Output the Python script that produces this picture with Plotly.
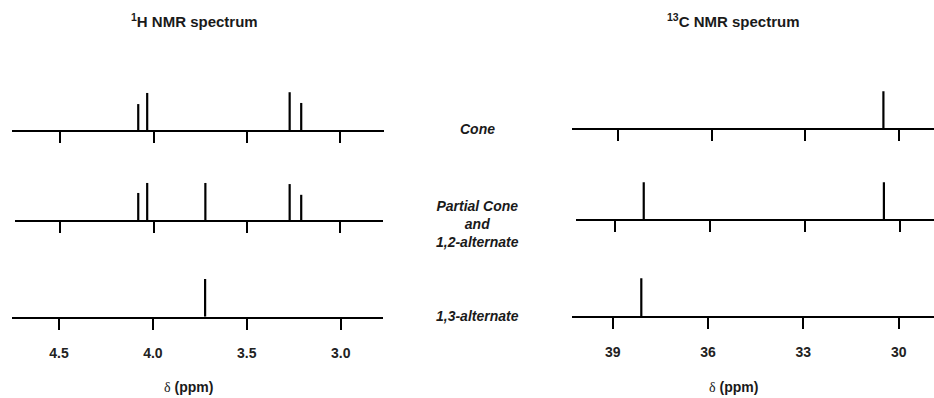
import plotly.graph_objects as go

# ---------------- data ----------------
h_ticks = [4.5, 4.0, 3.5, 3.0]
h_ticklabels = ["4.5", "4.0", "3.5", "3.0"]
c_ticks = [39, 36, 33, 30]
c_ticklabels = ["39", "36", "33", "30"]
conformers = ["Cone", "Partial Cone<br>and<br>1,2-alternate", "1,3-alternate"]
panel_titles = ["<sup>1</sup>H NMR spectrum", "<sup>13</sup>C NMR spectrum"]

h_cone_ppm = [4.082, 4.034, 3.270, 3.208]
h_cone_int = [0.70, 1.00, 1.02, 0.73]
h_partial_ppm = [4.082, 4.034, 3.722, 3.270, 3.208]
h_partial_int = [0.73, 1.00, 1.00, 0.97, 0.68]
h_13alt_ppm = [3.722]
h_13alt_int = [1.02]

c_cone_ppm = [30.5]
c_cone_int = [1.00]
c_partial_ppm = [38.1, 30.5]
c_partial_int = [1.00, 1.00]
c_13alt_ppm = [38.1]
c_13alt_int = [1.02]

# ---------------- layout geometry (pixels) ----------------
W, H = 934, 398
# per panel: (x0, x1, baseline_y, px of first tick, px of last tick)
left_geo = [(12, 384, 130, 60.3, 340.0), (15, 383, 220, 60.3, 340.0), (12, 383, 316.7, 59.0, 340.7)]
right_geo = [(571.7, 934, 128.3, 618.3, 899.0), (575.7, 934, 219.3, 615.3, 899.7), (571.7, 934, 316, 612.7, 898.7)]

spectra = [
    [(h_cone_ppm, h_cone_int), (h_partial_ppm, h_partial_int), (h_13alt_ppm, h_13alt_int)],
    [(c_cone_ppm, c_cone_int), (c_partial_ppm, c_partial_int), (c_13alt_ppm, c_13alt_int)],
]
ticks = [(h_ticks, h_ticklabels), (c_ticks, c_ticklabels)]
geos = [left_geo, right_geo]

FONT = "Liberation Sans, Arial, sans-serif"
fig = go.Figure()
layout = {}
n = 0
for col in range(2):
    tv, tt = ticks[col]
    for row in range(3):
        n += 1
        sfx = "" if n == 1 else str(n)
        x0, x1, base, p_first, p_last = geos[col][row]
        scale = (p_last - p_first) / (tv[-1] - tv[0])
        r0 = tv[0] + (x0 - p_first) / scale
        r1 = tv[0] + (x1 - p_first) / scale
        ppm, inten = spectra[col][row]
        xs, ys = [], []
        for p, v in zip(ppm, inten):
            xs += [p, p, None]
            ys += [0, v, None]
        fig.add_trace(go.Scatter(x=xs, y=ys, mode="lines", xaxis="x" + sfx, yaxis="y" + sfx,
                                 line=dict(color="black", width=2.2), showlegend=False,
                                 hoverinfo="skip", cliponaxis=False))
        layout["xaxis" + sfx] = dict(
            domain=[x0 / W, x1 / W], range=[r0, r1], anchor="y" + sfx,
            showline=True, linecolor="black", linewidth=2,
            ticks="outside", ticklen=11, tickwidth=2, tickcolor="black",
            tickvals=tv, ticktext=tt, showticklabels=(row == 2),
            tickfont=dict(family=FONT, size=14, color="#222", weight="bold"),
            ticklabelstandoff=11,
            showgrid=False, zeroline=False, fixedrange=True,
        )
        layout["yaxis" + sfx] = dict(
            domain=[1 - base / H, 1 - (base - 50) / H], range=[0, 1.35],
            anchor="x" + sfx, visible=False, fixedrange=True,
        )

annotations = []
# panel titles
for xc, t in zip([194, 733], panel_titles):
    annotations.append(dict(x=xc / W, y=1 - 20 / H, xref="paper", yref="paper", text="<b>" + t + "</b>",
                            xanchor="center", yanchor="middle",
                            showarrow=False, font=dict(family=FONT, size=15, color="#1a1a1a")))
# axis titles
for xc in [188, 733]:
    annotations.append(dict(x=xc / W, y=1 - 387 / H, xref="paper", yref="paper",
                            text="<span style='font-family:Liberation Serif'>δ</span> <b>(ppm)</b>",
                            xanchor="center", yanchor="middle",
                            showarrow=False, font=dict(family=FONT, size=14, color="#1a1a1a")))
# conformer labels
for yc, t in zip([129, 224, 316], conformers):
    annotations.append(dict(x=477 / W, y=1 - yc / H, xref="paper", yref="paper",
                            text="<b><i>" + t + "</i></b>", showarrow=False, align="center",
                            xanchor="center", yanchor="middle",
                            font=dict(family=FONT, size=14, color="#1a1a1a")))

fig.update_layout(**layout)
fig.update_layout(
    width=W, height=H, margin=dict(l=0, r=0, t=0, b=0),
    paper_bgcolor="white", plot_bgcolor="white",
    annotations=annotations, showlegend=False,
)
fig.write_html("out.html")
